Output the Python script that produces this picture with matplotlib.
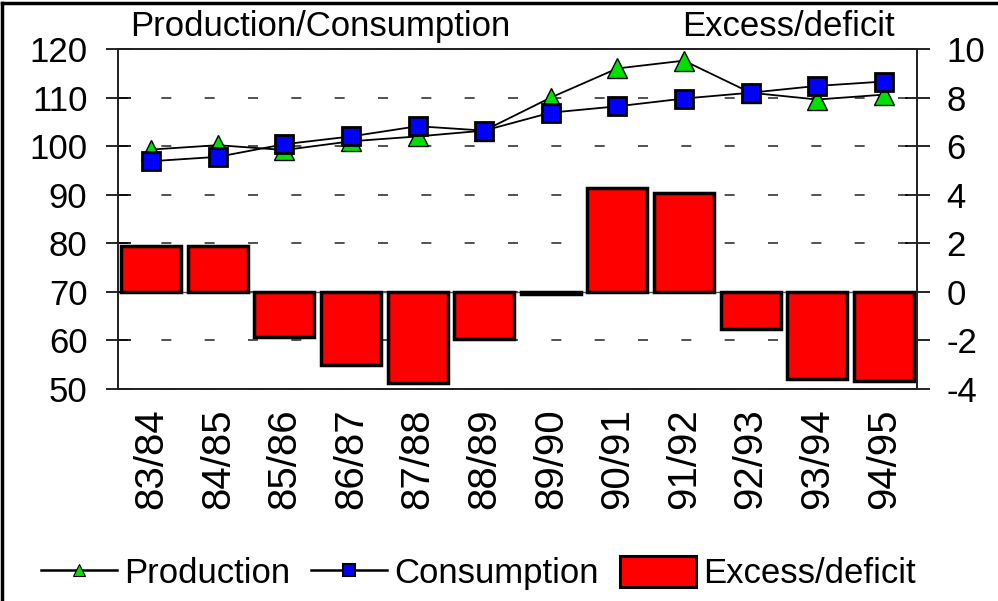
import numpy as np
import matplotlib.pyplot as plt
from matplotlib.lines import Line2D

plt.rcParams['font.family'] = ['Liberation Sans', 'DejaVu Sans']
plt.rcParams['axes.unicode_minus'] = False

seasons = ['83/84', '84/85', '85/86', '86/87', '87/88', '88/89',
           '89/90', '90/91', '91/92', '92/93', '93/94', '94/95']
production = [99.3, 100.2, 99.2, 101.0, 102.0, 103.2, 110.0, 116.0, 117.6, 111.0, 109.6, 110.6]
consumption = [96.9, 97.8, 100.4, 102.0, 104.1, 103.2, 106.9, 108.2, 109.8, 111.0, 112.4, 113.3]
excess = [1.9, 1.9, -1.85, -3.0, -3.75, -1.93, -0.1, 4.28, 4.07, -1.52, -3.58, -3.69]

fs = 25
x = np.arange(len(seasons))

fig = plt.figure(figsize=(9.98, 6.01), dpi=100)
ax = fig.add_axes([118 / 998, 1 - 389 / 601, (917 - 118) / 998, (389 - 49) / 601])
ax2 = ax.twinx()

# bars on the right axis, gridlines behind them
ax2.set_axisbelow(True)
ax2.grid(axis='y', color='#333333', linewidth=1.2, linestyle=(0, (6, 20)))
ax2.axhline(0, color='#555555', linewidth=1.0, zorder=1)
ax2.bar(x, excess, width=0.9, color='#ff0000', edgecolor='black', linewidth=2.5, zorder=2)
ax2.set_ylim(-4, 10)
ax2.set_yticks(range(-4, 11, 2))

# lines on the left axis, drawn on top
ax.set_zorder(ax2.get_zorder() + 1)
ax.patch.set_visible(False)
ax.plot(x, production, color='black', linewidth=1.3, marker='^', markersize=14,
        markerfacecolor='#00e000', markeredgecolor='black', markeredgewidth=1.0)
ax.plot(x, consumption, color='black', linewidth=1.3, marker='s', markersize=13,
        markerfacecolor='#0000ff', markeredgecolor='black', markeredgewidth=2.0)
ax.set_ylim(50, 120)
ax.set_yticks(range(50, 121, 10))
ax.set_xlim(-0.5, len(seasons) - 0.5)
ax.set_xticks(x)
ax.set_xticklabels(seasons, rotation=90, fontsize=29)

ax.tick_params(axis='x', length=0, pad=14)
ax.tick_params(axis='y', direction='inout', length=18, width=1.2, labelsize=fs, pad=13)
ax2.tick_params(axis='y', direction='inout', length=18, width=1.2, labelsize=fs, pad=12)
for a in (ax, ax2):
    for s in a.spines.values():
        s.set_linewidth(1.3)
        s.set_color('#222222')

fig.text(130 / 998, 1 - 36 / 601, 'Production/Consumption', fontsize=fs, va='baseline', ha='left')
fig.text(895 / 998, 1 - 36 / 601, 'Excess/deficit', fontsize=fs, va='baseline', ha='right')

handles = [
    Line2D([], [], color='black', linewidth=1.8, marker='^', markersize=9,
           markerfacecolor='#00e000', markeredgecolor='black', markeredgewidth=0.8),
    Line2D([], [], color='black', linewidth=1.8, marker='s', markersize=8,
           markerfacecolor='#0000ff', markeredgecolor='black', markeredgewidth=1.5),
    plt.Rectangle((0, 0), 1, 1, facecolor='#ff0000', edgecolor='black', linewidth=2.2),
]
fig.legend(handles, ['Production', 'Consumption', 'Excess/deficit'],
           loc='center', bbox_to_anchor=(478 / 998, 1 - 573 / 601), ncol=3,
           frameon=False, fontsize=fs, handlelength=2.2, handleheight=1.0,
           handletextpad=0.2, columnspacing=0.6, borderpad=0)

# frame lines on top and left edge of the picture
fig.add_artist(Line2D([0.002, 0.002], [0, 0.995], transform=fig.transFigure, color='black', linewidth=2.5))
fig.add_artist(Line2D([0.002, 1], [0.995, 0.995], transform=fig.transFigure, color='black', linewidth=2.5))

fig.savefig('out.png', dpi=100, facecolor='white')
